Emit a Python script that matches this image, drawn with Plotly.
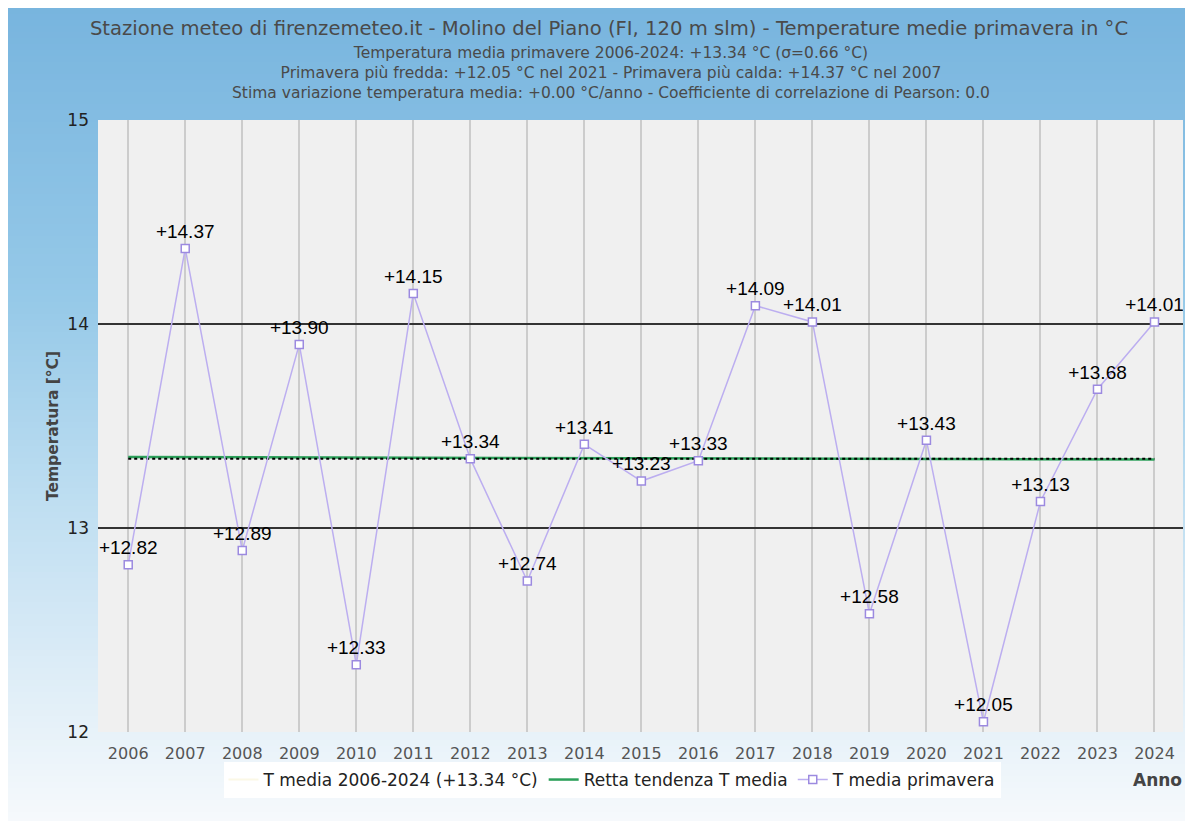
import plotly.graph_objects as go


# -------------------------------------------------
# Data
# -------------------------------------------------

years = list(range(2006, 2025))
t_primavera = [12.82, 14.37, 12.89, 13.90, 12.33, 14.15, 13.34, 12.74, 13.41, 13.23,
               13.33, 14.09, 14.01, 12.58, 13.43, 12.05, 13.13, 13.68, 14.01]
t_media = 13.34
trend_x = [2006, 2024]
trend_y = [13.348, 13.336]

labels = ["%+.2f" % v for v in t_primavera]

subtitle_lines = [
    "Temperatura media primavere 2006-2024: +13.34 °C (σ=0.66 °C)",
    "Primavera più fredda: +12.05 °C nel 2021 - Primavera più calda: +14.37 °C nel 2007",
    "Stima variazione temperatura media: +0.00 °C/anno - Coefficiente di correlazione di Pearson: 0.0",
]

# -------------------------------------------------
# Geometry (page pixels; the page body adds an 8px offset)
# -------------------------------------------------

OFF = 8
W, H = 1182, 813
L, R, T, B = 90, 7, 112, 89
PW, PH = W - L - R, H - T - B


def px_x(p):
    return (p - OFF - L) / PW


def px_y(p):
    return (H - B - (p - OFF)) / PH


def lerp_color(stops, y):
    for (y0, c0), (y1, c1) in zip(stops, stops[1:]):
        if y0 <= y <= y1:
            f = (y - y0) / (y1 - y0)
            c = [round(a + (b - a) * f) for a, b in zip(c0, c1)]
            return "rgb(%d,%d,%d)" % tuple(c)
    return "rgb(%d,%d,%d)" % tuple(stops[-1][1])


grad_stops = [
    (0, (119, 180, 222)),
    (300, (150, 201, 232)),
    (500, (190, 222, 241)),
    (700, (226, 239, 248)),
    (830, (247, 250, 252)),
]

shapes = []
step = 6
for y in range(OFF, OFF + H, step):
    shapes.append(dict(
        type="rect", xref="paper", yref="paper", layer="below",
        x0=px_x(0), x1=px_x(1200), y0=px_y(y + step + 0.5), y1=px_y(y),
        fillcolor=lerp_color(grad_stops, y + step / 2), line_width=0
    ))

# plot area
shapes.append(dict(
    type="rect", xref="paper", yref="paper", layer="below",
    x0=0, x1=1, y0=0, y1=1, fillcolor="#f0f0f0", line_width=0
))

# -------------------------------------------------
# Figure
# -------------------------------------------------

fig = go.Figure()

fig.add_trace(go.Scatter(
    x=[None], y=[None], mode="lines",
    name="T media 2006-2024 (+13.34 °C)",
    line=dict(color="#fbf8e6", width=2)
))

fig.add_trace(go.Scatter(
    x=trend_x, y=trend_y, mode="lines",
    name="Retta tendenza T media",
    line=dict(color="#2ca05a", width=2.5)
))

fig.add_trace(go.Scatter(
    x=[years[0], years[-1]], y=[t_media, t_media], mode="lines",
    showlegend=False, hoverinfo="skip",
    line=dict(color="black", width=2, dash="dot")
))

fig.add_trace(go.Scatter(
    x=years, y=t_primavera, mode="lines+markers+text",
    name="T media primavera",
    text=labels, textposition="top center",
    textfont=dict(family="Liberation Sans, Arial", size=19, color="black"),
    line=dict(color="#bcaef0", width=1.5),
    marker=dict(symbol="square", size=8, color="white",
                line=dict(color="#9c8ae0", width=1.5))
))

annotations = [
    dict(
        text="<br>".join(subtitle_lines), xref="paper", yref="paper",
        x=px_x(611), y=px_y(73),
        xanchor="center", yanchor="middle", showarrow=False,
        font=dict(family="DejaVu Sans", size=15.5, color="#4a4a4a")
    ),
    dict(
        text="<b>Anno</b>", xref="paper", yref="paper",
        x=px_x(1157), y=px_y(780), xanchor="center", yanchor="middle",
        showarrow=False, font=dict(size=17, color="#444")
    ),
]

fig.update_layout(
    width=W, height=H,
    margin=dict(l=L, r=R, t=T, b=B),
    paper_bgcolor="white",
    plot_bgcolor="rgba(0,0,0,0)",
    font=dict(family="DejaVu Sans", size=15, color="#222"),
    shapes=shapes,
    showlegend=True,
    legend=dict(
        orientation="h", x=px_x(612), xanchor="center", y=px_y(762), yanchor="top",
        bgcolor="white", font=dict(size=17, color="#222"),
        itemwidth=30
    ),
    title=dict(
        text="Stazione meteo di firenzemeteo.it - Molino del Piano (FI, 120 m slm) - Temperature medie primavera in °C",
        x=px_x(609), xanchor="center", y=1 - (28 - OFF) / H, yanchor="middle",
        xref="paper", yref="container",
        font=dict(family="DejaVu Sans", size=19.6, color="#4a4a4a")
    ),
    annotations=annotations,
)

fig.update_xaxes(
    range=[2005.47, 2024.5],
    tickmode="array", tickvals=years,
    tickfont=dict(size=16, color="#555"),
    showgrid=True, gridcolor="#cccccc", gridwidth=1.5,
    zeroline=False, showline=False, ticks="", ticklabelstandoff=10
)

fig.update_yaxes(
    range=[12, 15], dtick=1,
    title=dict(text="<b>Temperatura [°C]</b>", font=dict(size=15.5, color="#444"), standoff=4),
    tickfont=dict(size=17, color="#222"),
    showgrid=True, gridcolor="#333333", gridwidth=1.5,
    zeroline=False, showline=False, ticks="", ticklabelstandoff=8
)

fig.write_html("out.html")
